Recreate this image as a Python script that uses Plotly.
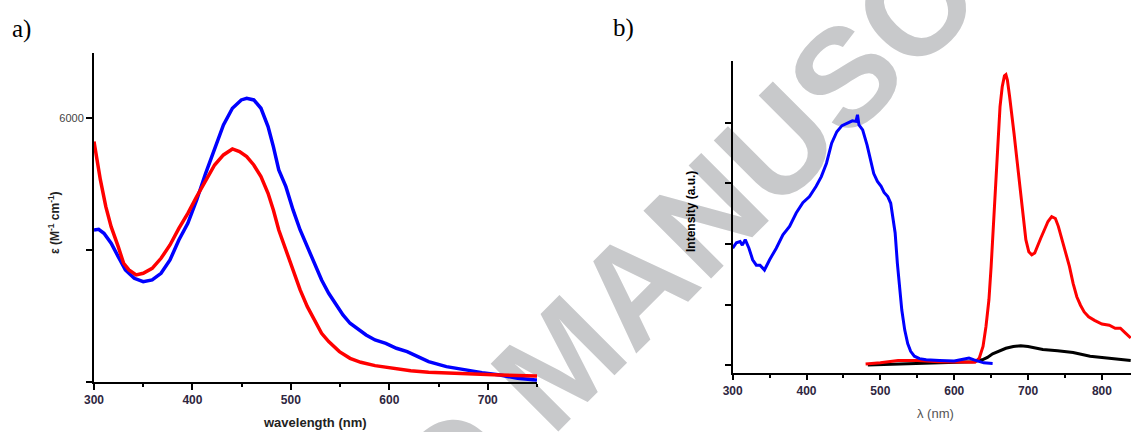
import plotly.graph_objects as go

# ---------------- Panel a: absorption ----------------
abs_blue_wl = [300, 304.7, 310.1, 317.4, 324.6, 331.9, 340.9, 350.0, 359.1, 368.1, 377.2, 386.2,
               395.3, 404.3, 413.4, 422.5, 431.5, 440.6, 449.6, 455.1, 462.3, 469.6, 476.8, 482.2,
               487.7, 494.9, 502.2, 509.4, 516.7, 523.9, 531.2, 538.4, 545.7, 552.9, 560.1, 567.4,
               576.4, 585.5, 596.4, 607.2, 618.1, 629.0, 639.9, 658.0, 676.1, 694.2, 712.3, 730.4,
               748.6, 750]
abs_blue_eps = [3462, 3477, 3386, 3159, 2856, 2553, 2364, 2288, 2326, 2477, 2780, 3235,
                3614, 4144, 4750, 5281, 5849, 6228, 6417, 6455, 6417, 6228, 5811, 5356,
                4826, 4447, 3917, 3462, 3083, 2705, 2326, 2023, 1758, 1530, 1341, 1227,
                1076, 962, 886, 773, 697, 583, 470, 356, 280, 220, 167, 91,
                53, 50]

abs_red_wl = [300, 302.9, 306.5, 312.0, 317.4, 324.6, 330.1, 335.5, 342.8, 350.0, 359.1, 368.1,
              377.2, 386.2, 395.3, 404.3, 413.4, 422.5, 431.5, 440.6, 447.8, 455.1, 462.3, 469.6,
              476.8, 482.2, 487.7, 494.9, 502.2, 509.4, 516.7, 523.9, 531.2, 538.4, 549.3, 560.1,
              571.0, 585.5, 603.6, 621.7, 639.9, 676.1, 712.3, 748.6, 750]
abs_red_eps = [5470, 5053, 4599, 3992, 3538, 3083, 2705, 2553, 2439, 2477, 2590, 2818,
               3121, 3499, 3841, 4220, 4599, 4939, 5167, 5303, 5243, 5129, 4939, 4674,
               4296, 3917, 3462, 3008, 2553, 2099, 1720, 1417, 1114, 924, 697, 545,
               455, 379, 318, 265, 227, 189, 167, 144, 144]

a_xticks = [300, 400, 500, 600, 700]
a_ylabeled = [6000]
a_yunlabeled = [0, 3000]

# ---------------- Panel b: excitation / emission ----------------
exc_blue_wl = [300, 305, 310, 313, 317, 322, 327, 332, 337, 343, 350, 359, 368, 377, 386, 395,
               404, 413, 420, 427, 434, 441, 448, 455, 462, 467, 469, 471, 476, 482, 487, 491,
               496, 501, 505, 510, 514, 517, 520, 523, 526, 529, 533, 537, 541, 546, 553, 562,
               580, 600, 612, 620, 627, 640, 652]
exc_blue_int = [1.93, 2.02, 2.04, 1.98, 2.07, 1.93, 1.74, 1.65, 1.65, 1.57, 1.74, 1.93, 2.15, 2.29,
                2.51, 2.68, 2.78, 2.95, 3.11, 3.33, 3.66, 3.85, 3.95, 3.99, 4.03, 4.02, 4.13, 3.96,
                3.88, 3.63, 3.38, 3.16, 3.03, 2.95, 2.85, 2.78, 2.67, 2.45, 2.18, 1.68, 1.30, 0.91,
                0.58, 0.36, 0.23, 0.15, 0.11, 0.09, 0.08, 0.07, 0.10, 0.12, 0.09, 0.04, 0.03]

em_red_wl = [480, 500, 524, 550, 579, 610, 628, 634, 639, 643, 647, 650, 653, 656, 659, 662, 665,
             668, 670, 672, 675, 678, 681, 685, 689, 693, 697, 701, 705, 709, 713, 717, 722, 727,
             732, 737, 741, 746, 751, 756, 761, 766, 771, 776, 782, 790, 800, 810, 818, 825, 832,
             839]
em_red_int = [0.02, 0.04, 0.08, 0.08, 0.06, 0.05, 0.05, 0.12, 0.31, 0.64, 1.08, 1.63, 2.29, 2.95,
              3.71, 4.26, 4.59, 4.77, 4.79, 4.70, 4.43, 4.15, 3.82, 3.38, 2.95, 2.45, 2.07, 1.87,
              1.82, 1.85, 1.98, 2.09, 2.23, 2.37, 2.45, 2.42, 2.29, 2.07, 1.85, 1.63, 1.35, 1.13,
              0.99, 0.88, 0.80, 0.74, 0.68, 0.66, 0.61, 0.61, 0.53, 0.45]

em_black_wl = [483, 500, 533, 579, 625, 638, 645, 652, 661, 670, 680, 690, 700, 710, 720, 740,
               761, 784, 808, 839]
em_black_int = [0.005, 0.01, 0.03, 0.04, 0.06, 0.09, 0.13, 0.19, 0.24, 0.28, 0.31, 0.32, 0.31,
                0.28, 0.26, 0.24, 0.21, 0.15, 0.12, 0.08]

b_xticks = [300, 400, 500, 600, 700, 800]
b_yticks = [0, 1, 2, 3, 4]

W, H = 1131, 432
TICKFONT = dict(family="Liberation Sans", size=12, color="#2e2640", weight="bold")

fig = go.Figure()

fig.add_trace(go.Scatter(x=abs_blue_wl, y=abs_blue_eps, mode="lines",
                         line=dict(color="#0000ff", width=3.5), xaxis="x", yaxis="y"))
fig.add_trace(go.Scatter(x=abs_red_wl, y=abs_red_eps, mode="lines",
                         line=dict(color="#ff0000", width=3.5), xaxis="x", yaxis="y"))

fig.add_trace(go.Scatter(x=em_black_wl, y=em_black_int, mode="lines",
                         line=dict(color="#000000", width=3), xaxis="x2", yaxis="y2"))
fig.add_trace(go.Scatter(x=em_red_wl, y=em_red_int, mode="lines",
                         line=dict(color="#ff0000", width=3), xaxis="x2", yaxis="y2"))
fig.add_trace(go.Scatter(x=exc_blue_wl, y=exc_blue_int, mode="lines",
                         line=dict(color="#0000ff", width=3), xaxis="x2", yaxis="y2"))

ax_common = dict(showgrid=False, zeroline=False, showline=True, linecolor="black",
                 ticks="outside", tickcolor="black", mirror=False, fixedrange=True,
                 automargin=False)

fig.update_layout(
    template="none",
    width=W, height=H,
    margin=dict(l=0, r=0, t=0, b=0, pad=0, autoexpand=False),
    paper_bgcolor="white", plot_bgcolor="rgba(0,0,0,0)",
    showlegend=False,
    xaxis=dict(**ax_common, domain=[94 / W, 537 / W], range=[300, 750], anchor="y",
               tickvals=a_xticks, ticklen=6, tickwidth=1.5, linewidth=1.5,
               tickfont=TICKFONT,
               minor=dict(ticks="outside", ticklen=3, tickwidth=1.5, dtick=50, tick0=300,
                          tickcolor="black", showgrid=False)),
    yaxis=dict(**ax_common, domain=[1 - 382.3 / H, 1 - 53.3 / H], range=[0, 7477], anchor="x",
               tickvals=a_ylabeled, ticklen=6, tickwidth=1.5, linewidth=2,
               tickfont=dict(family="Liberation Sans", size=11, color="#444444"),
               minor=dict(ticks="outside", tickvals=a_yunlabeled, ticklen=6, tickwidth=1.5,
                          tickcolor="black", showgrid=False)),
    xaxis2=dict(**ax_common, domain=[732.7 / W, 1.0], range=[300, 839.4], anchor="y2",
                tickvals=b_xticks, ticklen=5, tickwidth=1.5, linewidth=2,
                tickfont=TICKFONT,
                minor=dict(ticks="outside", ticklen=3, tickwidth=1.5, dtick=50, tick0=300,
                           tickcolor="black", showgrid=False)),
    yaxis2=dict(**ax_common, domain=[1 - 373.3 / H, 1 - 60.7 / H], range=[-0.132, 5.02],
                anchor="x2", tickvals=b_yticks, showticklabels=False, ticklen=6, tickwidth=2,
                linewidth=1.5),
)

# Watermark, drawn beneath the data
wm_cx, wm_cy = 0.488, 0.188
fig.add_shape(type="rect", xref="paper", yref="paper",
              x0=wm_cx - 0.05, x1=wm_cx + 0.05, y0=wm_cy - 0.06, y1=wm_cy + 0.06, layer="below",
              line=dict(width=0), fillcolor="rgba(0,0,0,0)",
              label=dict(text="ACCEPTED MANUSCRIPT", textangle=-45,
                         textposition="middle center",
                         font=dict(family="Liberation Sans", size=139, color="#c8c9cb",
                                   weight="bold")))

ann = []
ann.append(dict(text="a)", x=10 / W, y=1 - 29 / H, xref="paper", yref="paper",
                xanchor="left", yanchor="middle", showarrow=False,
                font=dict(family="Liberation Serif", size=25, color="black")))
ann.append(dict(text="b)", x=611 / W, y=1 - 28 / H, xref="paper", yref="paper",
                xanchor="left", yanchor="middle", showarrow=False,
                font=dict(family="Liberation Serif", size=25, color="black")))
ann.append(dict(text="wavelength (nm)", x=315 / W, y=1 - 422 / H, xref="paper", yref="paper",
                xanchor="center", yanchor="middle", showarrow=False,
                font=dict(family="Liberation Sans", size=13, color="#222222", weight="bold")))
ann.append(dict(text="ε (M<sup>-1</sup> cm<sup>-1</sup>)", x=54 / W, y=1 - 222 / H,
                xref="paper", yref="paper", textangle=-90,
                xanchor="center", yanchor="middle", showarrow=False,
                font=dict(family="Liberation Sans", size=12, color="#222222", weight="bold")))
ann.append(dict(text="λ (nm)", x=935 / W, y=1 - 413 / H, xref="paper", yref="paper",
                xanchor="center", yanchor="middle", showarrow=False,
                font=dict(family="Liberation Sans", size=13, color="#555555")))
ann.append(dict(text="Intensity (a.u.)", x=691 / W, y=1 - 212 / H, xref="paper", yref="paper",
                textangle=-90, xanchor="center", yanchor="middle", showarrow=False,
                font=dict(family="Liberation Sans", size=12, color="black", weight="bold")))
fig.update_layout(annotations=ann)

fig.write_html("out.html", config={"displayModeBar": False},
               post_script="document.body.style.margin='0';document.body.style.overflow='hidden';")
